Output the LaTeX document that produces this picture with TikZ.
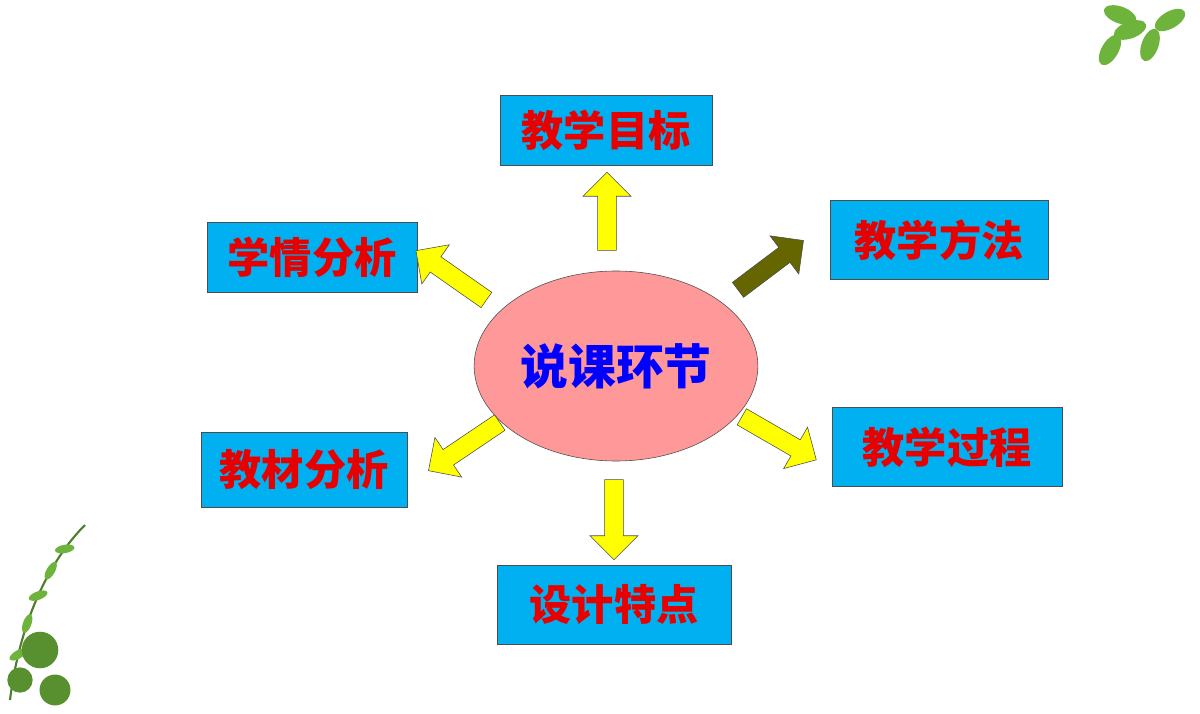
\documentclass[tikz,border=0pt]{standalone}
\usepackage{fontspec}
\setmainfont{Noto Sans CJK SC}
\usetikzlibrary{shapes.arrows,shapes.geometric}
\definecolor{boxblue}{RGB}{0,176,240}
\definecolor{topicred}{RGB}{230,0,0}
\definecolor{ellpink}{RGB}{255,153,153}
\definecolor{arrowyel}{RGB}{255,255,0}
\definecolor{arrowolive}{RGB}{102,102,0}
\definecolor{leafgreen}{RGB}{110,180,60}

\tikzset{
  topic/.style={draw=black!70,fill=boxblue,text=topicred,font=\fontsize{30}{36}\selectfont\bfseries,inner sep=0pt},
  blockarrow/.style={single arrow,draw=black!70,fill=arrowyel,minimum width=34pt,single arrow head extend=5pt,inner sep=3pt,anchor=center},
  leaf/.style={fill=leafgreen,draw=none,ellipse,minimum width=14pt,minimum height=6pt,inner sep=0pt}
}

\begin{document}
\begin{tikzpicture}[x=0.025cm,y=-0.025cm]
  \useasboundingbox[fill=white] (0,0) rectangle (1200,714);

  % Topics
  \node[topic,minimum width=212*0.025cm,minimum height=70*0.025cm] (goal) at (606,130) {教学目标};
  \node[topic,minimum width=218*0.025cm,minimum height=79*0.025cm] (method) at (939,240) {教学方法};
  \node[topic,minimum width=210*0.025cm,minimum height=70*0.025cm] (learner) at (312,257) {学情分析};
  \node[topic,minimum width=206*0.025cm,minimum height=75*0.025cm] (material) at (304,470) {教材分析};
  \node[topic,minimum width=230*0.025cm,minimum height=79*0.025cm] (process) at (947,447) {教学过程};
  \node[topic,minimum width=234*0.025cm,minimum height=79*0.025cm] (feature) at (614,605) {设计特点};

  % Centre
  \node[ellipse,draw=black!70,fill=ellpink,minimum width=270*0.025cm,minimum height=190*0.025cm,
        text=blue,font=\fontsize{34}{40}\selectfont\bfseries] (core) at (616,366) {说课环节};

  % Arrows
  \node[blockarrow,minimum height=78*0.025cm,rotate=90] (a1) at (607,216) {};
  \node[blockarrow,fill=arrowolive,minimum height=82*0.025cm,rotate=37] (a2) at (767,268) {};
  \node[blockarrow,minimum height=86*0.025cm,rotate=145] (a3) at (455,278) {};
  \node[blockarrow,minimum height=86*0.025cm,rotate=214] (a4) at (468,444) {};
  \node[blockarrow,minimum height=86*0.025cm,rotate=-30] (a5) at (775,436) {};
  \node[blockarrow,minimum height=80*0.025cm,rotate=-90] (a6) at (614,515) {};

  % Leaves
  \foreach \x/\y/\r in {1110/50/60,1130/30/20,1150/45/70,1170/20/30,1120/15/-20}
    \node[leaf,rotate=\r,minimum width=24pt,minimum height=12pt] at (\x,\y) {};
  \draw[leafgreen!70!black,line width=1.5pt] (10,700) .. controls (20,620) and (50,560) .. (85,525);
  \foreach \p/\r in {0.2/30,0.35/70,0.5/20,0.65/60,0.8/10}
    \path (10,700) .. controls (20,620) and (50,560) .. (85,525) node[pos=\p,leaf,rotate=\r] {};
  \foreach \x/\y/\s in {40/650/26,55/690/22,20/680/18}
    \node[circle,fill=leafgreen!80!black,minimum size=\s pt,inner sep=0pt] at (\x,\y) {};
\end{tikzpicture}
\end{document}
